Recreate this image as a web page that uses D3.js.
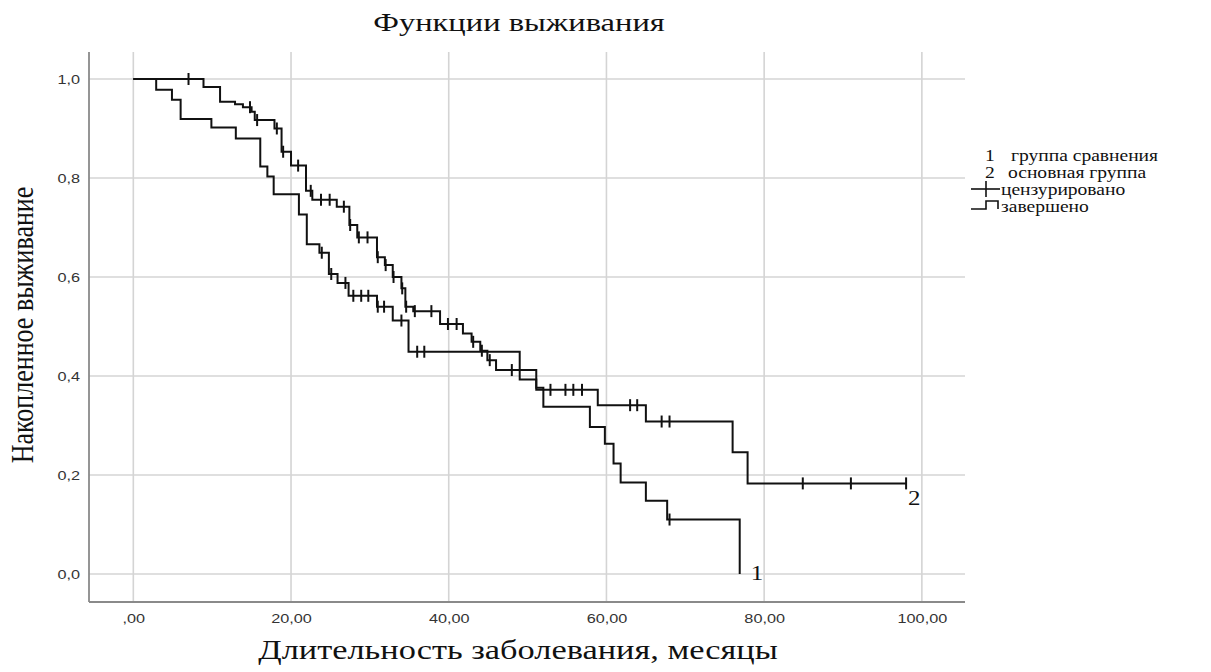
<!DOCTYPE html>
<html>
<head>
<meta charset="utf-8">
<script src="https://cdn.jsdelivr.net/npm/d3@7"></script>
<style>
  html, body { margin: 0; padding: 0; background: #fff; }
  svg { display: block; }
</style>
</head>
<body>
<svg id="chart" width="1211" height="672"></svg>
<script>
// Kaplan–Meier survival curves: time of each drop and survival after it
const timesG1 = [0, 2.9, 4.9, 6.0, 9.9, 13.0, 16.1, 17.0, 17.8, 21.0, 22.0, 23.6, 24.8, 25.9, 27.3, 30.9, 32.9, 34.9, 49.0, 51.1, 52.0, 57.9, 59.8, 60.9, 61.8, 65.0, 67.7, 76.9];
const survG1  = [1.0, 0.978, 0.958, 0.919, 0.902, 0.880, 0.823, 0.803, 0.767, 0.726, 0.666, 0.649, 0.606, 0.588, 0.562, 0.540, 0.512, 0.449, 0.393, 0.376, 0.338, 0.297, 0.263, 0.223, 0.185, 0.148, 0.110, 0.0];
const censG1  = [23.9, 25.1, 26.9, 27.9, 28.9, 29.8, 31.0, 31.8, 34.0, 36.0, 36.9, 68.0];

const timesG2 = [0, 8.9, 11.0, 12.9, 13.9, 15.0, 15.4, 17.9, 18.8, 20.0, 21.9, 22.7, 25.8, 27.4, 28.4, 30.9, 31.9, 32.9, 34.0, 34.5, 35.5, 38.9, 41.8, 42.9, 44.0, 44.9, 46.0, 51.1, 58.9, 65.0, 76.0, 77.9, 98.0];
const survG2  = [1.0, 0.984, 0.954, 0.949, 0.943, 0.934, 0.917, 0.900, 0.853, 0.825, 0.774, 0.756, 0.742, 0.705, 0.680, 0.640, 0.624, 0.600, 0.577, 0.540, 0.531, 0.505, 0.486, 0.469, 0.451, 0.432, 0.412, 0.372, 0.341, 0.308, 0.246, 0.183, 0.183];
const censG2  = [7.0, 14.8, 15.7, 18.2, 19.0, 20.9, 22.5, 23.8, 24.9, 26.7, 27.5, 28.6, 29.7, 31.0, 32.0, 33.0, 34.1, 34.6, 35.7, 37.8, 39.9, 41.0, 43.1, 44.2, 45.2, 48.0, 52.9, 54.8, 55.8, 56.9, 63.0, 63.9, 67.0, 68.0, 84.9, 91.0, 98.0];

const groupLabels = ["1", "2"];
const xTicks = [0, 20, 40, 60, 80, 100];
const yTicks = [0, 0.2, 0.4, 0.6, 0.8, 1.0];
const legendItems = ["группа сравнения", "основная группа", "цензурировано", "завершено"];

const titleText = "Функции выживания";
const xTitle = "Длительность заболевания, месяцы";
const yTitle = "Накопленное выживание";

const svg = d3.select("#chart");
const serif = "'Liberation Serif', 'Times New Roman', serif";
const sans = "'Liberation Sans', Arial, sans-serif";
const SX = 1.25; // glyphs in this figure are drawn wider than tall

const plot = { left: 89, right: 965, top: 52, bottom: 602 };
const x = d3.scaleLinear().domain([-5.62, 105.47]).range([plot.left, plot.right]);
const y = d3.scaleLinear().domain([-0.0566, 1.0545]).range([plot.bottom, plot.top]);

// text helper: wide glyphs anchored at (tx, ty)
function wideText(parent, tx, ty, str, size, family, anchor, sx) {
  return parent.append("text")
    .attr("transform", `translate(${tx},${ty}) scale(${sx || SX},1)`)
    .attr("text-anchor", anchor || "start")
    .attr("font-family", family).attr("font-size", size).attr("fill", "#111")
    .text(str);
}

// grid
const grid = svg.append("g");
grid.selectAll(".vg").data(xTicks).join("line")
  .attr("x1", d => x(d)).attr("x2", d => x(d))
  .attr("y1", plot.top).attr("y2", plot.bottom)
  .attr("stroke", "#d4d4d4").attr("stroke-width", 1.6);
grid.selectAll(".hg").data(yTicks).join("line")
  .attr("x1", plot.left).attr("x2", plot.right)
  .attr("y1", d => y(d)).attr("y2", d => y(d))
  .attr("stroke", "#d4d4d4").attr("stroke-width", 1.6);

// axes
const fmtX = d => (d === 0 ? "" : d3.format("d")(d)) + ",00";
const fmtY = d => d3.format(".1f")(d).replace(".", ",");

const xAxis = svg.append("g").attr("transform", `translate(0,${plot.bottom})`)
  .call(d3.axisBottom(x).tickValues(xTicks).tickFormat(fmtX).tickSize(0).tickPadding(12));
const yAxis = svg.append("g").attr("transform", `translate(${plot.left},0)`)
  .call(d3.axisLeft(y).tickValues(yTicks).tickFormat(fmtY).tickSize(0).tickPadding(7.2));
[xAxis, yAxis].forEach(a => {
  a.select(".domain").attr("stroke", "#8a8a8a").attr("stroke-width", 1.8);
  a.selectAll("text").attr("font-family", sans).attr("font-size", 13).attr("fill", "#333")
    .attr("transform", `scale(${SX},1)`);
});
xAxis.select(".domain").attr("d", `M${plot.left},0H${plot.right}`);
yAxis.select(".domain").attr("d", `M0,${plot.top}V${plot.bottom}`);

// survival curves
const stepLine = d3.line().x(d => x(d[0])).y(d => y(d[1])).curve(d3.curveStepAfter);
const groups = [
  { times: timesG1, surv: survG1, cens: censG1 },
  { times: timesG2, surv: survG2, cens: censG2 }
];
const survAt = (g, t) => {
  const i = d3.bisectRight(g.times, t) - 1;
  return g.surv[Math.max(0, i)];
};
const curves = svg.append("g");
groups.forEach((g, gi) => {
  const pts = g.times.map((t, i) => [t, g.surv[i]]);
  curves.append("path").attr("d", stepLine(pts))
    .attr("fill", "none").attr("stroke", "#111").attr("stroke-width", 2);
  curves.selectAll(null).data(g.cens).join("line")
    .attr("x1", d => x(d)).attr("x2", d => x(d))
    .attr("y1", d => y(survAt(g, d)) - 6).attr("y2", d => y(survAt(g, d)) + 6)
    .attr("stroke", "#111").attr("stroke-width", 2);
  const tEnd = g.times[g.times.length - 1];
  const sEnd = g.surv[g.surv.length - 1];
  wideText(curves, x(tEnd) + (gi === 0 ? 11 : 2), y(sEnd) + (gi === 0 ? 6 : 22),
    groupLabels[gi], 20, serif);
});

// titles
wideText(svg, 519, 31, titleText, 26, serif, "middle");
wideText(svg, 518, 659, xTitle, 27.5, serif, "middle");
svg.append("text")
  .attr("transform", `translate(33,325) scale(${SX},1) rotate(-90)`)
  .attr("text-anchor", "middle")
  .attr("font-family", serif).attr("font-size", 26).attr("fill", "#111").text(yTitle);

// legend
const lg = svg.append("g");
const rowY = [161, 178, 195, 212];
const LSX = 1.15;
wideText(lg, 985, rowY[0], groupLabels[0], 17, serif, "start", LSX);
wideText(lg, 1011, rowY[0], legendItems[0], 17, serif, "start", LSX);
wideText(lg, 985, rowY[1], groupLabels[1], 17, serif, "start", LSX);
wideText(lg, 1008, rowY[1], legendItems[1], 17, serif, "start", LSX);
lg.append("line").attr("x1", 971).attr("x2", 1000).attr("y1", rowY[2] - 6).attr("y2", rowY[2] - 6)
  .attr("stroke", "#111").attr("stroke-width", 1.6);
lg.append("line").attr("x1", 986).attr("x2", 986).attr("y1", rowY[2] - 14).attr("y2", rowY[2] + 2)
  .attr("stroke", "#111").attr("stroke-width", 1.6);
wideText(lg, 1001, rowY[2], legendItems[2], 17, serif, "start", LSX);
lg.append("path").attr("d", `M971,${rowY[3] - 3}H986V${rowY[3] - 11}H998V${rowY[3] - 3}`)
  .attr("fill", "none").attr("stroke", "#111").attr("stroke-width", 1.6);
wideText(lg, 1001, rowY[3], legendItems[3], 17, serif, "start", LSX);
</script>
</body>
</html>
